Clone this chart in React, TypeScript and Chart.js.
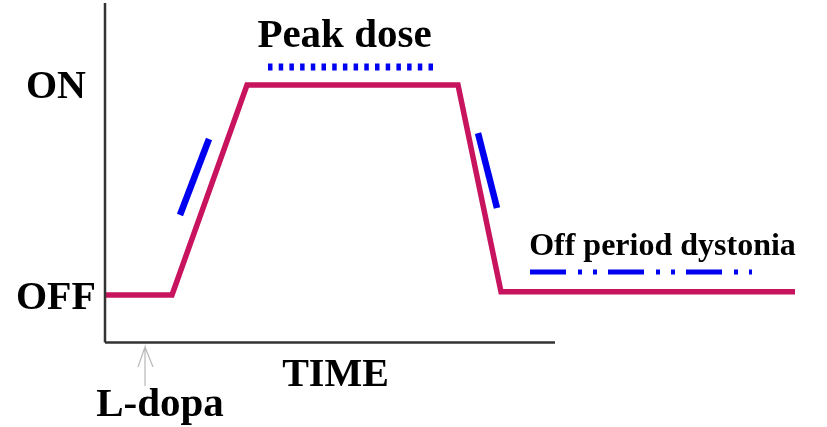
import React, { useEffect, useRef } from "react";
import { Chart, registerables } from "chart.js";

Chart.register(...registerables);

// Time axis (arbitrary units) and response level (OFF = 0, ON = 1)
const responseTime = [0, 6.7, 14.2, 35.3, 39.6, 69.0];
const responseLevel = [0, 0, 1, 1, 0.015, 0.015];

// Dyskinesia markers
const onsetDyskTime = [7.5, 10.4];
const onsetDyskLevel = [0.381, 0.743];
const peakDoseTime = [16.3, 32.8];
const peakDoseLevel = [1.086, 1.086];
const offsetDyskTime = [37.3, 39.2];
const offsetDyskLevel = [0.771, 0.414];
const offDystoniaTime = [42.5, 64.7];
const offDystoniaLevel = [0.11, 0.11];

// Axes drawn as lines
const yAxisTime = [0, 0];
const yAxisLevel = [1.39, -0.226];
const xAxisTime = [0, 45];
const xAxisLevel = [-0.226, -0.226];

// L-dopa arrow
const arrowTime = [4.0, 4.0, 3.3, 4.0, 4.8];
const arrowLevel = [-0.433, -0.248, -0.343, -0.248, -0.343];

const levelTicks = [0, 1];
const levelLabels = ["OFF", "ON"];

const pts = (xs: number[], ys: number[]) => xs.map((x, i) => ({ x, y: ys[i] }));

const MAGENTA = "#C8145F";
const BLUE = "#0000F0";
const SERIF = "'Liberation Serif', 'Times New Roman', serif";

const textPlugin = {
  id: "annotText",
  afterDatasetsDraw(chart: any) {
    const { ctx, scales } = chart;
    const xs = scales.x;
    const ys = scales.y;
    ctx.save();
    ctx.fillStyle = "#000";
    ctx.textAlign = "center";
    ctx.textBaseline = "alphabetic";
    ctx.font = `bold 40px ${SERIF}`;
    levelTicks.forEach((v, i) => {
      ctx.fillText(levelLabels[i], 56, ys.getPixelForValue(v) + 13.5);
    });
    ctx.font = `bold 41px ${SERIF}`;
    ctx.fillText("Peak dose", xs.getPixelForValue(23.95), 47);
    ctx.font = `bold 40px ${SERIF}`;
    ctx.fillText("TIME", xs.getPixelForValue(23.05), 386);
    ctx.font = `bold 41px ${SERIF}`;
    ctx.fillText("L-dopa", xs.getPixelForValue(5.5), 416);
    ctx.font = `bold 32px ${SERIF}`;
    ctx.fillText("Off period dystonia", xs.getPixelForValue(55.75), 255);
    ctx.restore();
  },
};

export default function App() {
  const ref = useRef<HTMLCanvasElement | null>(null);
  useEffect(() => {
    if (!ref.current) return;
    const chart = new Chart(ref.current, {
      type: "line",
      data: {
        datasets: [
          {
            data: pts(yAxisTime, yAxisLevel),
            borderColor: "#333333",
            borderWidth: 2.5,
            pointRadius: 0,
          },
          {
            data: pts(xAxisTime, xAxisLevel),
            borderColor: "#333333",
            borderWidth: 2.5,
            pointRadius: 0,
          },
          {
            data: pts(arrowTime, arrowLevel),
            borderColor: "#b8b8b8",
            borderWidth: 1.2,
            pointRadius: 0,
          },
          {
            data: pts(responseTime, responseLevel),
            borderColor: MAGENTA,
            borderWidth: 5.5,
            pointRadius: 0,
            borderJoinStyle: "miter",
          },
          {
            data: pts(onsetDyskTime, onsetDyskLevel),
            borderColor: BLUE,
            borderWidth: 6.5,
            pointRadius: 0,
          },
          {
            data: pts(peakDoseTime, peakDoseLevel),
            borderColor: BLUE,
            borderWidth: 7,
            borderDash: [4.5, 6.2],
            pointRadius: 0,
          },
          {
            data: pts(offsetDyskTime, offsetDyskLevel),
            borderColor: BLUE,
            borderWidth: 6.5,
            pointRadius: 0,
          },
          {
            data: pts(offDystoniaTime, offDystoniaLevel),
            borderColor: BLUE,
            borderWidth: 5,
            borderDash: [36, 12, 4, 11, 4, 11],
            pointRadius: 0,
          },
        ],
      },
      options: {
        animation: false,
        responsive: false,
        layout: { padding: 0 },
        plugins: { legend: { display: false }, tooltip: { enabled: false } },
        scales: {
          x: { type: "linear", display: false, min: -10.5, max: 72.2 },
          y: { type: "linear", display: false, min: -0.62857, max: 1.40476 },
        },
      },
      plugins: [textPlugin],
    });
    return () => chart.destroy();
  }, []);
  return (
    <div style={{ position: "fixed", left: 0, top: 0, width: 827, height: 427, background: "#fff" }}>
      <canvas ref={ref} width={827} height={427} />
    </div>
  );
}
